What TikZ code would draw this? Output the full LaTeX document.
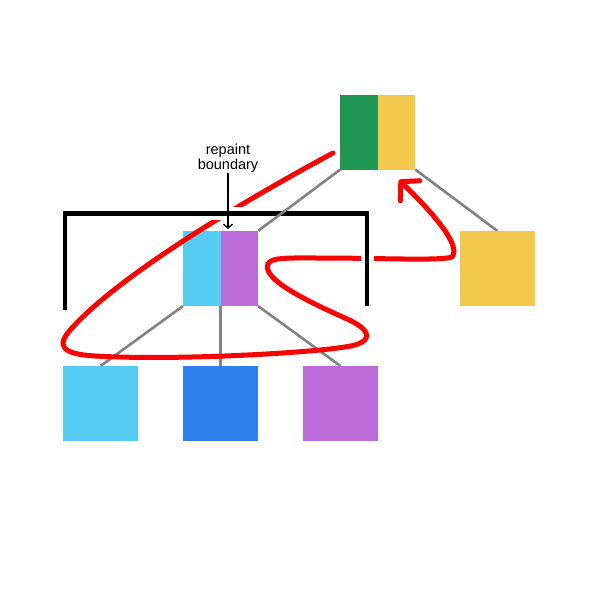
\documentclass[tikz,border=0pt]{standalone}
\usepackage{fontspec}
\setmainfont{Liberation Sans}
\usetikzlibrary{arrows, arrows.meta}
\usetikzlibrary{calc}

\definecolor{layergreen}{HTML}{219653}
\definecolor{layeryellow}{HTML}{F2C94C}
\definecolor{layercyan}{HTML}{56CCF2}
\definecolor{layerpurple}{HTML}{BB6BD9}
\definecolor{layerblue}{HTML}{2F80ED}
\definecolor{linkgrey}{HTML}{828282}

\begin{document}
\begin{tikzpicture}[x=1pt, y=-1pt,
    box/.style={rectangle, inner sep=0pt, minimum size=75pt, fill=#1},
    half/.style={rectangle, inner sep=0pt, minimum width=37.5pt, minimum height=75pt, fill=#1},
    link/.style={draw=linkgrey, line width=2.6pt},
    walk/.style={draw=red, line width=5pt, line cap=round, line join=round}]
      \useasboundingbox (0,0) rectangle (601,600);

      % links under the layers
      \coordinate (rootse) at (415.25,169.5);
      \coordinate (sidetop) at (497.5,231);
      \draw[link] (rootse) -- (sidetop);
      \draw[link] (183,306) -- (100.5,366);
      \draw[link] (220.5,306) -- (220.5,366);
      \draw[link] (258,306) -- (340.5,366);

      % layers
      \node[half=layergreen] (rootg) at (359,132) {};
      \node[half=layeryellow] (rooty) at (396.5,132) {};
      \node[box=layeryellow] (side) at (497.5,268.5) {};
      \node[half=layercyan] (midc) at (201.75,268.5) {};
      \node[half=layerpurple] (midp) at (239.25,268.5) {};
      \node[box=layercyan] (leafc) at (100.5,403.5) {};
      \node[box=layerblue] (leafb) at (220.5,403.5) {};
      \node[box=layerpurple] (leafp) at (340.5,403.5) {};

      % paint order
      \draw[walk, -{Straight Barb[length=13pt, width=28pt, round]}]
        (333,153) .. controls (240,203) and (120,275) .. (72,328)
        .. controls (55,346) and (62,354) .. (95,356)
        .. controls (180,361) and (330,352) .. (355,345)
        .. controls (375,339) and (368,328) .. (345,318)
        .. controls (300,298) and (262,278) .. (268,264)
        .. controls (271,257) and (290,258) .. (320,258)
        .. controls (380,258) and (440,261) .. (452,257)
        .. controls (462,245) and (430,210) .. (399,180);

      % repaint boundary
      \draw[white, line width=13pt] (65,213.5) -- (367,213.5) -- (367,306);
      \draw[line width=4.5pt] (65,310) -- (65,213.5) -- (367,213.5) -- (367,306);

      \draw[link] (rootg.south west) -- (midp.north east);

      \node[font=\fontsize{14.5}{15.5}\selectfont, align=center, inner sep=0pt, anchor=south] (lbl) at (228,173) {repaint\\boundary};
      \coordinate (bnd) at (228,229);
      \draw[line width=1.3pt, -{Straight Barb[length=4pt, width=9pt]}] (lbl.south) -- (bnd);
    \end{tikzpicture}
\end{document}
